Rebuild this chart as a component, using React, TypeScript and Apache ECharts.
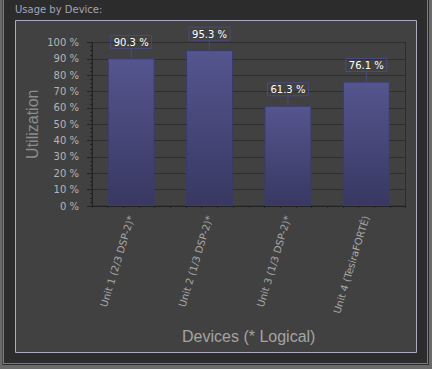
import React, { useEffect, useRef } from "react";
import * as echarts from "echarts";

const categories = [
  "Unit 1 (2/3 DSP-2)*",
  "Unit 2 (1/3 DSP-2)*",
  "Unit 3 (1/3 DSP-2)*",
  "Unit 4 (TesiraFORTÉ)",
];
const utilization = [90.3, 95.3, 61.3, 76.1];
const titleText = "Usage by Device:";
const yAxisName = "Utilization";
const xAxisName = "Devices (* Logical)";

export default function App() {
  const ref = useRef<HTMLDivElement>(null);
  useEffect(() => {
    if (!ref.current) return;
    const chart = echarts.init(ref.current, null, { renderer: "svg" });
    const font = "DejaVu Sans";
    const axisDark = "#232323";
    chart.setOption({
      animation: false,
      backgroundColor: "#2c2c2c",
      graphic: [
        { type: "rect", silent: true, shape: { x: 0, y: 0, width: 2.5, height: 369 }, style: { fill: "#6a6a6a" } },
        { type: "rect", silent: true, shape: { x: 3, y: 0, width: 1, height: 364 }, style: { fill: "#7a7a7a" } },
        { type: "rect", silent: true, shape: { x: 429, y: 0, width: 3, height: 369 }, style: { fill: "#6a6a6a" } },
        { type: "rect", silent: true, shape: { x: 427, y: 0, width: 1, height: 364 }, style: { fill: "#7a7a7a" } },
        { type: "rect", silent: true, shape: { x: 0, y: 365, width: 432, height: 4 }, style: { fill: "#6a6a6a" } },
        { type: "rect", silent: true, shape: { x: 3, y: 363, width: 425, height: 1 }, style: { fill: "#7a7a7a" } },
        {
          type: "rect",
          silent: true,
          z: -10,
          shape: { x: 15.5, y: 20.5, width: 401, height: 332 },
          style: { fill: "#414141", stroke: "#a9a9c0", lineWidth: 1 },
        },
        {
          type: "text",
          silent: true,
          x: 15,
          y: 4,
          style: { text: titleText, fill: "#a2a4bc", font: `10px "${font}"` },
        },
      ],
      grid: {
        left: 92,
        right: 26.5,
        top: 42.5,
        bottom: 163,
        show: true,
        borderColor: "#2e2e2e",
        borderWidth: 1,
        backgroundColor: "transparent",
      },
      xAxis: [
        {
          type: "category",
          data: categories,
          position: "bottom",
          axisLine: { lineStyle: { color: axisDark } },
          axisTick: { alignWithLabel: true, length: 5, lineStyle: { color: axisDark } },
          axisLabel: {
            rotate: 73,
            margin: 10,
            color: "#a8a8a8",
            fontFamily: font,
            fontSize: 10,
          },
          name: xAxisName,
          nameLocation: "middle",
          nameGap: 122,
          nameMoveOverlap: false,
          nameTextStyle: { color: "#a4a4a4", fontFamily: "Liberation Sans", fontSize: 16 },
        },
        {
          type: "value",
          min: 0,
          max: 4,
          interval: 0.2,
          position: "bottom",
          axisLine: { show: false },
          axisTick: { show: true, length: 2, lineStyle: { color: axisDark } },
          axisLabel: { show: false },
          splitLine: { show: false },
        },
      ],
      yAxis: {
        type: "value",
        min: 0,
        max: 100,
        interval: 10,
        axisLine: { show: true, lineStyle: { color: axisDark } },
        axisTick: { show: true, length: 5, lineStyle: { color: axisDark } },
        minorTick: { show: true, splitNumber: 4, length: 2, lineStyle: { color: axisDark } },
        axisLabel: {
          formatter: "{value} %",
          color: "#b4b4b4",
          fontFamily: font,
          fontSize: 10,
          margin: 13,
        },
        splitLine: { show: true, lineStyle: { color: "#2e2e2e", width: 1 } },
        name: yAxisName,
        nameLocation: "middle",
        nameGap: 52,
        nameMoveOverlap: false,
        nameTextStyle: { color: "#8c8c8c", fontFamily: "Liberation Sans", fontSize: 16 },
      },
      series: [
        {
          type: "bar",
          xAxisIndex: 0,
          data: utilization,
          barWidth: "60%",
          itemStyle: {
            color: new echarts.graphic.LinearGradient(0, 0, 0, 1, [
              { offset: 0, color: "#55558f" },
              { offset: 1, color: "#383862" },
            ]),
            borderColor: "#3b3b6c",
            borderWidth: 1,
          },
          label: {
            show: true,
            position: "top",
            distance: 10,
            formatter: (p: any) => p.value.toFixed(1) + " %",
            color: "#ffffff",
            fontFamily: font,
            fontSize: 10,
            borderColor: "#4a4a82",
            borderWidth: 1,
            padding: [2, 3, 1, 3],
          },
        },
        {
          type: "custom",
          xAxisIndex: 0,
          data: utilization.map((v, i) => [i, v]),
          renderItem: (params: any, api: any) => {
            const p = api.coord([api.value(0), api.value(1)]);
            return {
              type: "line",
              shape: { x1: p[0], y1: p[1] - 10, x2: p[0], y2: p[1] },
              style: { stroke: "#4a4a82", lineWidth: 1 },
            };
          },
        },
      ],
    });
    return () => chart.dispose();
  }, []);
  return (
    <div
      ref={ref}
      style={{ position: "fixed", left: 0, top: 0, width: 432, height: 369 }}
    />
  );
}
